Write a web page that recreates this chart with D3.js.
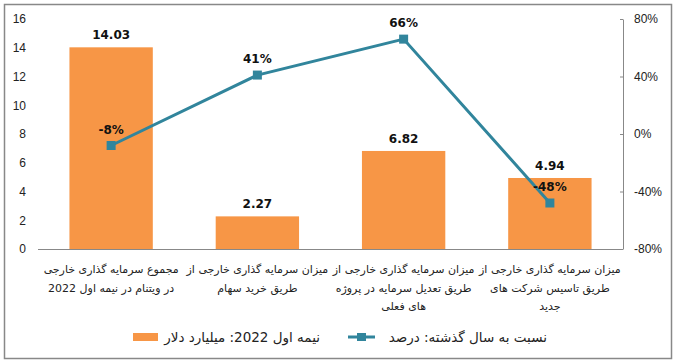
<!DOCTYPE html>
<html>
<head>
<meta charset="utf-8">
<script src="https://cdn.jsdelivr.net/npm/d3@7"></script>
<style>
  body { margin: 0; background: #fff; }
  svg { display: block; font-family: "Segoe UI", "DejaVu Sans", sans-serif; }
</style>
</head>
<body>
<div id="chart"></div>
<script>
// data
const categories = [
  ["مجموع سرمایه گذاری خارجی", "در ویتنام در نیمه اول 2022"],
  ["میزان سرمایه گذاری خارجی از", "طریق خرید سهام"],
  ["میزان سرمایه گذاری خارجی از", "طریق تعدیل سرمایه در پروژه", "های فعلی"],
  ["میزان سرمایه گذاری خارجی از", "طریق تاسیس شرکت های", "جدید"]
];
const amounts = [14.03, 2.27, 6.82, 4.94];       // billion USD
const changes = [-8, 41, 66, -48];               // percent vs last year
const leftTicks = [0, 2, 4, 6, 8, 10, 12, 14, 16];
const rightTicks = [-80, -40, 0, 40, 80];
const barName = "نیمه اول 2022: میلیارد دلار";
const lineName = "نسبت به سال گذشته: درصد";

const W = 674, H = 362;
const barColor = "#F79646", lineColor = "#31859C";
const plotL = 38, plotR = 623, plotT = 19, plotB = 249;

const svg = d3.select("#chart").append("svg")
  .attr("width", W).attr("height", H);

// outer border
svg.append("rect")
  .attr("x", 4.5).attr("y", 4.5)
  .attr("width", 667).attr("height", 354)
  .attr("fill", "none").attr("stroke", "#888").attr("stroke-width", 1.5);

const x = d3.scaleBand()
  .domain(d3.range(categories.length))
  .range([plotL, plotR]);

const yL = d3.scaleLinear().domain([0, 16]).range([plotB, plotT]);
const yR = d3.scaleLinear().domain([-80, 80]).range([plotB, plotT]);

// left axis (labels only)
const gL = svg.append("g")
  .attr("transform", `translate(${plotL},0)`)
  .call(d3.axisLeft(yL).tickValues(leftTicks).tickSize(0).tickPadding(12));
gL.select(".domain").remove();
gL.selectAll("text").attr("font-size", 12).attr("fill", "#222");

// right axis
const gR = svg.append("g")
  .attr("transform", `translate(${plotR},0)`)
  .call(d3.axisRight(yR).tickValues(rightTicks).tickFormat(d => d + "%").tickSizeInner(-3).tickSizeOuter(0).tickPadding(11));
gR.select(".domain").attr("stroke", "#888");
gR.selectAll("line").attr("stroke", "#888");
gR.selectAll("text").attr("font-size", 12).attr("fill", "#222");

// bars
const bw = x.bandwidth() * 0.57;
svg.append("g").selectAll("rect")
  .data(amounts).enter()
  .append("rect")
  .attr("x", (d, i) => x(i) + (x.bandwidth() - bw) / 2)
  .attr("y", d => yL(d))
  .attr("width", bw)
  .attr("height", d => yL(0) - yL(d))
  .attr("fill", barColor);

// baseline
svg.append("line")
  .attr("x1", plotL).attr("x2", plotR)
  .attr("y1", plotB + 0.5).attr("y2", plotB + 0.5)
  .attr("stroke", "#888");

// bar labels
svg.append("g").selectAll("text")
  .data(amounts).enter()
  .append("text")
  .attr("x", (d, i) => x(i) + x.bandwidth() / 2)
  .attr("y", d => yL(d) - 8)
  .attr("text-anchor", "middle")
  .attr("font-size", 12).attr("font-weight", "bold").attr("fill", "#111")
  .text(d => d.toFixed(2));

// line
const cx = i => x(i) + x.bandwidth() / 2;
const line = d3.line().x((d, i) => cx(i)).y(d => yR(d));
svg.append("path")
  .datum(changes)
  .attr("d", line)
  .attr("fill", "none")
  .attr("stroke", lineColor)
  .attr("stroke-width", 3);

svg.append("g").selectAll("rect")
  .data(changes).enter()
  .append("rect")
  .attr("x", (d, i) => cx(i) - 4.5)
  .attr("y", d => yR(d) - 4.5)
  .attr("width", 9).attr("height", 9)
  .attr("fill", lineColor);

svg.append("g").selectAll("text")
  .data(changes).enter()
  .append("text")
  .attr("x", (d, i) => cx(i))
  .attr("y", d => yR(d) - 12)
  .attr("text-anchor", "middle")
  .attr("font-size", 12).attr("font-weight", "bold").attr("fill", "#111")
  .text(d => d + "%");

// category labels
const catG = svg.append("g").selectAll("text")
  .data(categories).enter()
  .append("text")
  .attr("text-anchor", "middle")
  .attr("direction", "rtl")
  .attr("font-size", 11).attr("fill", "#222");
catG.each(function (lines, i) {
  d3.select(this).selectAll("tspan")
    .data(lines).enter()
    .append("tspan")
    .attr("x", cx(i))
    .attr("y", (l, j) => 273 + j * 18.5)
    .text(l => l);
});

// legend
svg.append("rect")
  .attr("x", 133).attr("y", 333).attr("width", 25).attr("height", 8)
  .attr("fill", barColor);
svg.append("text")
  .attr("x", 320).attr("y", 342)
  .attr("text-anchor", "end")
  .attr("font-size", 13.5).attr("fill", "#222")
  .text(barName);

svg.append("line")
  .attr("x1", 348).attr("x2", 375).attr("y1", 337).attr("y2", 337)
  .attr("stroke", lineColor).attr("stroke-width", 3);
svg.append("rect")
  .attr("x", 357).attr("y", 333).attr("width", 9).attr("height", 8)
  .attr("fill", lineColor);
svg.append("text")
  .attr("x", 547).attr("y", 342)
  .attr("text-anchor", "end")
  .attr("font-size", 13.5).attr("fill", "#222")
  .text(lineName);
</script>
</body>
</html>
